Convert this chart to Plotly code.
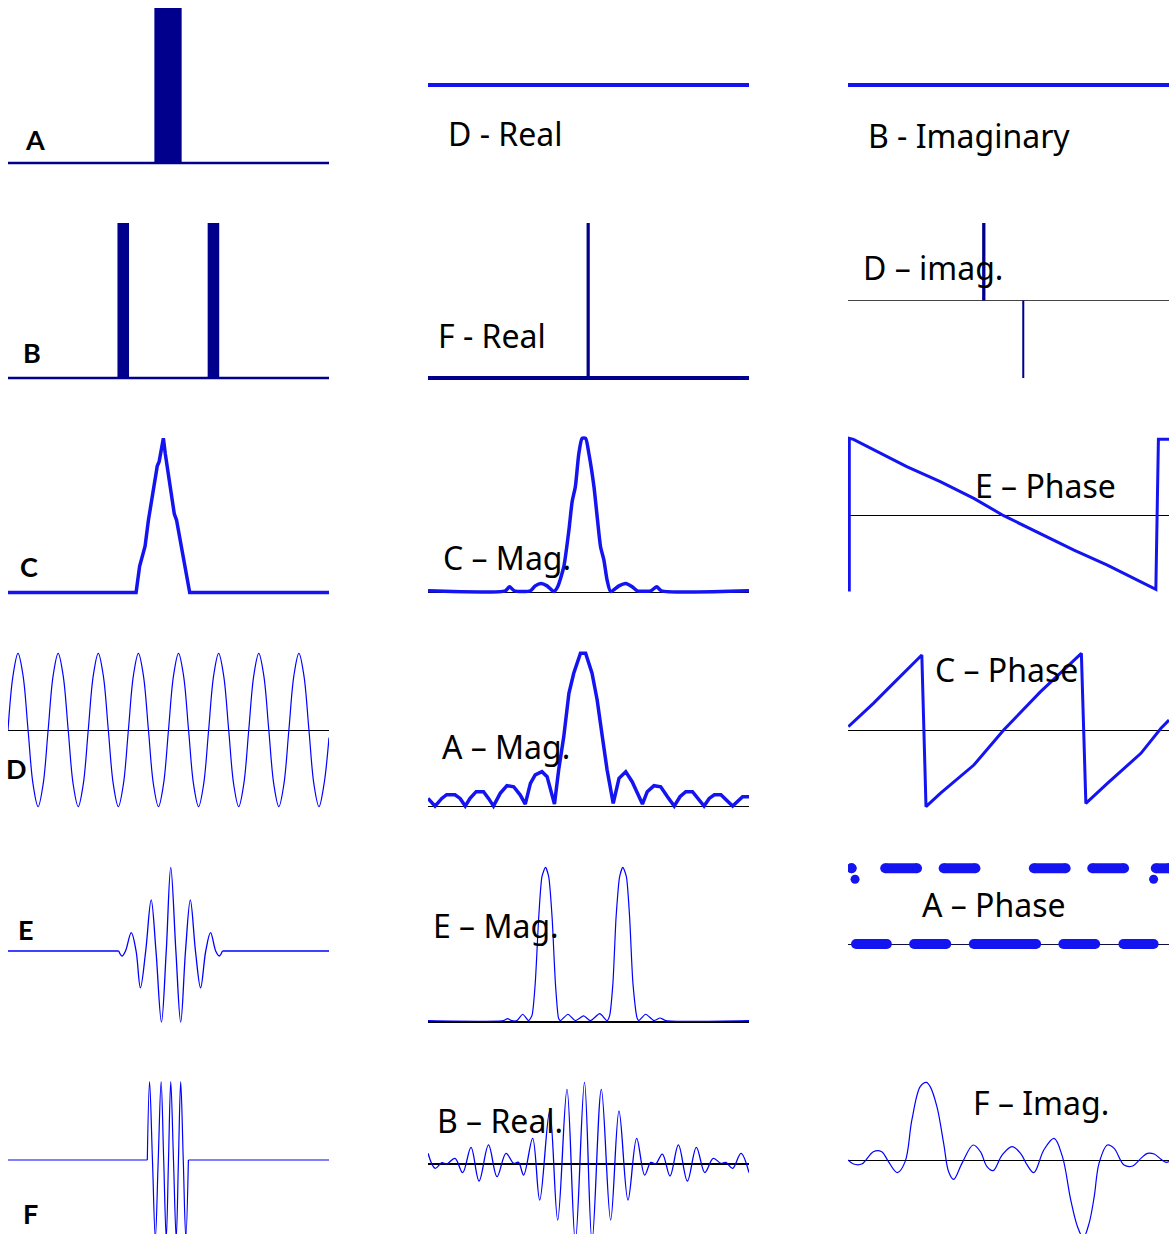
import plotly.graph_objects as go

W, H = 1172, 1234

# ---------------- data (x in % of panel width, y in signal units) ----------------
# A: single rectangular pulse
A_center = [49.85]
A_width = [8.5]
A_height = [1.0]
# B: two narrow pulses
B_center = [35.9, 64.0]
B_width = [3.6, 3.6]
B_height = [1.0, 1.0]
BASE_X = [0, 100]
BASE_Y = [0, 0]
# D - Real / B - Imaginary : constants
D_real_x = [0, 100]
D_real_y = [1, 1]
B_imag_x = [0, 100]
B_imag_y = [1, 1]
# F - Real : single spike
F_real_center = [49.9]
F_real_width = [1.0]
F_real_height = [1.0]
# D - imag : positive and negative spike
D_imag_center = [42.3, 54.6]
D_imag_width = [1.03, 0.63]
D_imag_height = [1.0, -1.0]
# C : triangular pulse
C_x = [0, 39.9, 41.0, 42.7, 43.75, 45.1, 46.5, 47.1, 47.5, 48.4, 49.0, 50.9, 51.8, 52.5, 54.4, 56.6, 100]
C_y = [0, 0, 0.17, 0.30, 0.47, 0.64, 0.82, 0.85, 0.90, 1.0, 0.90, 0.62, 0.51, 0.47, 0.25, 0, 0]
# C - Mag.
C_mag_x = [0, 24.1, 25.4, 26.9, 31.9, 33.4, 35.2, 37.1, 39.2, 40.4, 42.3, 43.9, 44.9, 45.9, 47.0, 48.0,
           49.1, 50.1, 51.7, 52.7, 53.75, 54.8, 55.8, 56.9, 59.5, 61.6, 63.6, 65.2, 69.4, 71.25, 72.7, 100]
C_mag_y = [0.011, 0.011, 0.037, 0.011, 0.011, 0.043, 0.058, 0.043, 0.006, 0.037, 0.167, 0.405, 0.589,
           0.686, 0.903, 1, 1, 0.903, 0.686, 0.491, 0.297, 0.21, 0.08, 0.006, 0.043, 0.058, 0.037, 0.011,
           0.011, 0.037, 0.011, 0.011]
# E - Phase (units of pi)
E_phase_x = [0.4, 0.4, 1.7, 7.9, 18.3, 28.75, 39.2, 48.5, 60, 70.4, 80.8, 91.25, 95.9, 96.7, 100]
E_phase_y = [-0.98, 1.0, 0.987, 0.858, 0.634, 0.44, 0.224, 0, -0.228, -0.444, -0.638, -0.853, -0.953, 0.987, 0.987]
# D : sinusoid, 8 samples per cycle (x = sample index)
D_wave = [0, 0.71, 1, 0.71, 0, -0.71, -1, -0.71,
          0, 0.71, 1, 0.71, 0, -0.71, -1, -0.71,
          0, 0.71, 1, 0.71, 0, -0.71, -1, -0.71,
          0, 0.71, 1, 0.71, 0, -0.71, -1, -0.71,
          0, 0.71, 1, 0.71, 0, -0.71, -1, -0.71,
          0, 0.71, 1, 0.71, 0, -0.71, -1, -0.71,
          0, 0.71, 1, 0.71, 0, -0.71, -1, -0.71,
          0, 0.71, 1, 0.71, 0, -0.71, -1, -0.71,
          -0.1]
# A - Mag.
A_mag_x = [0, 2.2, 4.3, 5.8, 8.4, 10.0, 11.6, 13.1, 15.0, 17.3, 18.85, 20.4, 22.5, 24.6, 26.7, 28.75,
           30.3, 31.9, 33.4, 35.5, 37.1, 38.6, 39.4, 40.7, 42.3, 43.9, 45.4, 47.5, 49.1, 51.1, 52.7, 54.3,
           55.8, 57.7, 59.5, 61.6, 63.6, 66.8, 68.3, 70.4, 72.5, 74.6, 76.7, 78.5, 80.3, 82.4, 84.2, 86.0,
           87.6, 89.2, 91.25, 93.1, 94.9, 98.0, 100]
A_mag_y = [0.054, 0.004, 0.054, 0.078, 0.078, 0.054, 0.004, 0.054, 0.098, 0.098, 0.054, 0.004, 0.087,
           0.137, 0.13, 0.076, 0.017, 0.152, 0.207, 0.228, 0.196, 0.087, 0.017, 0.239, 0.457, 0.739, 0.87,
           1, 1, 0.87, 0.696, 0.457, 0.239, 0.022, 0.185, 0.228, 0.163, 0.017, 0.098, 0.137, 0.13, 0.065,
           0.004, 0.065, 0.098, 0.098, 0.054, 0.004, 0.054, 0.078, 0.078, 0.043, 0.004, 0.065, 0.065]
# C - Phase (units of pi)
C_phase_x = [0.1, 7.9, 13.1, 18.3, 23.0, 24.3, 28.75, 39.2, 48.5, 60, 72.7, 74.1, 80.8, 91.25, 97.5, 100]
C_phase_y = [0.043, 0.348, 0.565, 0.783, 0.978, -1.0, -0.826, -0.457, 0, 0.5, 1.0, -0.957, -0.696,
             -0.304, 0.022, 0.13]
# E : modulated wave packet (flat outside the packet)
E_x = [0, 34.5, 35.5, 36.6, 38.4, 39.9, 41.25, 42.9, 44.6, 46.1, 47.8, 49.3, 50.7, 52.3, 53.8, 55.3,
       56.8, 58.4, 60.0, 61.6, 63.1, 64.7, 65.8, 66.8, 100]
E_y = [0, 0, -0.06, 0, 0.22, 0, -0.44, 0, 0.61, 0, -0.85, 0, 1.0, 0, -0.85, 0, 0.61, 0, -0.44, 0,
       0.22, 0, -0.06, 0, 0]
# E - Mag.
E_mag_x = [0, 23.5, 24.8, 26.1, 27.7, 29.5, 31.35, 32.4, 33.4, 34.5, 35.5, 36.6, 37.6, 38.65, 39.7,
           40.7, 41.25, 43.6, 45.9, 48.5, 50.6, 53.5, 55.8, 56.6, 57.6, 58.6, 59.7, 60.7, 61.8, 62.8,
           63.85, 65.2, 65.7, 67.8, 70.4, 72.3, 74.1, 100]
E_mag_y = [0.009, 0.009, 0.022, 0.009, 0.009, 0.05, 0.009, 0.043, 0.248, 0.68, 0.94, 1, 0.94, 0.68,
           0.248, 0.022, 0.009, 0.05, 0.009, 0.039, 0.009, 0.054, 0.009, 0.043, 0.248, 0.68, 0.94, 1,
           0.94, 0.68, 0.248, 0.022, 0.009, 0.05, 0.009, 0.026, 0.009, 0.009]
# A - Phase : runs at pi (1) and 0, plus two intermediate dots
AP_top_start = [1.1, 11.6, 29.8, 57.9, 76.1, 95.9]
AP_top_end = [1.1, 21.5, 39.7, 67.8, 86.0, 100.0]
AP_bot_start = [2.5, 20.6, 39.2, 67.1, 85.8]
AP_bot_end = [12.1, 30.6, 58.6, 77.0, 95.2]
AP_dot_x = [2.2, 95.2]
AP_dot_y = [0.855, 0.855]
# F : truncated cosine burst (flat outside the burst)
F_x = [0, 43.4, 44.1, 45.0, 45.9, 46.8, 47.7, 48.5, 49.3, 50.0, 50.7, 51.55, 52.4, 53.1, 53.8, 54.6,
       55.4, 56.2, 100]
F_y = [0, 0, 1, 0, -1, 0, 1, 0, -1, 0, 1, 0, -1, 0, 1, 0, -1, 0, 0]
# B - Real.
B_real_x = [0, 2.2, 4.3, 5.8, 8.4, 10.8, 13.4, 15.9, 18.85, 21.5, 24.3, 26.7, 28.2, 29.8, 32.6, 34.8,
            37.9, 40.4, 43.3, 45.9, 48.75, 51.1, 54.0, 56.9, 59.5, 62.3, 65.0, 67.5, 69.4, 70.9, 73.0,
            75.4, 78.0, 80.8, 83.6, 86.25, 88.85, 91.25, 92.8, 94.9, 97.5, 100]
B_real_y = [0.131, -0.053, 0.016, 0, 0.069, -0.106, 0.204, -0.208, 0.233, -0.155, 0.131, 0.008, 0.02,
            -0.135, 0.314, -0.441, 0.649, -0.686, 0.914, -0.95, 1.0, -0.95, 0.914, -0.686, 0.649, -0.441,
            0.314, -0.135, 0.02, 0, 0.122, -0.147, 0.233, -0.208, 0.204, -0.106, 0.069, 0.008, 0.02,
            -0.053, 0.131, -0.106]
# F - Imag.
F_imag_x = [0, 1.7, 4.3, 7.9, 10.5, 12.6, 15.4, 17.8, 19.9, 22.5, 24.4, 25.6, 27.7, 29.8, 31.35, 32.9,
            35.5, 39.0, 41.25, 43.3, 45.2, 48.0, 51.1, 53.75, 55.8, 57.9, 61.0, 64.2, 66.8, 69.4, 71.5,
            73.3, 75.1, 76.7, 78.2, 80.8, 82.9, 86.0, 88.65, 91.25, 93.3, 95.4, 97.5, 99.1, 100]
F_imag_y = [0, -0.052, -0.052, 0.107, 0.107, -0.021, -0.163, -0.021, 0.515, 0.944, 1.0, 0.944, 0.687,
            0.215, -0.15, -0.249, -0.043, 0.193, 0.107, -0.086, -0.137, 0.064, 0.172, 0.086, -0.064,
            -0.163, 0.129, 0.279, 0.043, -0.515, -0.858, -1.0, -0.815, -0.472, -0.043, 0.193, 0.15,
            -0.064, -0.077, 0.021, 0.086, 0.077, 0.009, -0.03, -0.021]

LEFT_LABELS = ["A", "B", "C", "D", "E", "F"]
PANEL_LABELS = ["D - Real", "B - Imaginary", "F - Real", "D – imag.", "C – Mag.", "E – Phase",
                "A – Mag.", "C – Phase", "E – Mag.", "A – Phase", "B – Real.", "F – Imag."]

# ---------------- layout geometry (window pixels) ----------------
OFF = 0  # page margin is removed below
COL_X = [8, 428, 848]
COL_W = 321
ROW_TOP = [8, 223, 438, 653, 867, 1082]
ROW_BOT = [163, 378, 593, 808, 1022, 1234]

NAVY = "rgb(0,0,140)"
BLUE = "rgb(0,0,255)"
BLUE2 = "rgb(20,20,240)"

fig = go.Figure()
axes = {}


def panel(i, col, row, v0px, v1px, xr=(0, 100), zero=None, zw=1.2):
    x0 = COL_X[col] - OFF
    x1 = x0 + COL_W
    top_f = max(ROW_TOP[row] - 10 - OFF, 0)
    bot_f = min(ROW_BOT[row] + 10 - OFF, H)
    s = 1.0 / (v0px - v1px)
    vtop = (v0px - (top_f + OFF)) * s
    vbot = (v0px - (bot_f + OFF)) * s
    sx = "" if i == 1 else str(i)
    axes["xaxis" + sx] = dict(domain=[x0 / W, x1 / W], range=list(xr), visible=False,
                             anchor="y" + sx, fixedrange=True)
    axes["yaxis" + sx] = dict(domain=[1 - bot_f / H, 1 - top_f / H], range=[vbot, vtop],
                             showgrid=False, showticklabels=False, ticks="", showline=False,
                             zeroline=zero is not None, zerolinecolor=zero or "black",
                             zerolinewidth=zw, anchor="x" + sx, fixedrange=True)
    return dict(xaxis="x" + sx, yaxis="y" + sx)


def line(ax, x, y, color, width, shape="linear", smoothing=1.0):
    fig.add_trace(go.Scatter(x=x, y=y, mode="lines", hoverinfo="skip",
                             line=dict(color=color, width=width, shape=shape, smoothing=smoothing),
                             **ax))


def burst(ax, x, y, color, width):
    # flat lead-in / lead-out drawn straight, oscillating middle drawn smooth
    line(ax, x[:2], y[:2], color, width)
    line(ax, x[1:-1], y[1:-1], color, width, "spline", 1.0)
    line(ax, x[-2:], y[-2:], color, width)


def bars(ax, c, h, w, color):
    fig.add_trace(go.Bar(x=c, y=h, width=w, marker=dict(color=color, line=dict(width=0)),
                         hoverinfo="skip", **ax))


# Row 1
ax = panel(1, 0, 0, 163, 8)
bars(ax, A_center, A_height, A_width, NAVY)
line(ax, BASE_X, BASE_Y, NAVY, 2.5)
ax = panel(2, 1, 0, 163, 85)
line(ax, D_real_x, D_real_y, BLUE2, 4)
ax = panel(3, 2, 0, 163, 85)
line(ax, B_imag_x, B_imag_y, BLUE2, 4)
# Row 2
ax = panel(4, 0, 1, 378, 223)
bars(ax, B_center, B_height, B_width, NAVY)
line(ax, BASE_X, BASE_Y, NAVY, 2.5)
ax = panel(5, 1, 1, 378, 223)
bars(ax, F_real_center, F_real_height, F_real_width, NAVY)
line(ax, BASE_X, BASE_Y, NAVY, 4)
ax = panel(6, 2, 1, 300.5, 223, zero="#444", zw=1)
bars(ax, D_imag_center, D_imag_height, D_imag_width, NAVY)
# Row 3
ax = panel(7, 0, 2, 592.5, 438.3)
line(ax, C_x, C_y, BLUE2, 3.5)
ax = panel(8, 1, 2, 592.5, 438.3, zero="black")
line(ax, C_mag_x, C_mag_y, BLUE2, 3.5, "spline", 0.6)
ax = panel(9, 2, 2, 515.7, 438.3, zero="black")
line(ax, E_phase_x, E_phase_y, BLUE2, 3)
# Row 4
ax = panel(10, 0, 3, 730, 653.3, xr=(0, 64), zero="black")
line(ax, list(range(len(D_wave))), D_wave, BLUE, 1.2, "spline", 1.0)
ax = panel(11, 1, 3, 806.7, 653.3, zero="black")
line(ax, A_mag_x, A_mag_y, BLUE2, 3.5)
ax = panel(12, 2, 3, 730, 653.3, zero="black")
line(ax, C_phase_x, C_phase_y, BLUE2, 3)
# Row 5
ax = panel(13, 0, 4, 951, 867.3)
burst(ax, E_x, E_y, BLUE, 1.3)
ax = panel(14, 1, 4, 1022, 867.3, zero="black", zw=1.5)
line(ax, E_mag_x, E_mag_y, BLUE, 1.2, "spline", 0.6)
ax = panel(15, 2, 4, 944, 868.3, zero="#101040", zw=1.2)
ap_x, ap_y = [], []
for s_, e_ in zip(AP_top_start, AP_top_end):
    ap_x += [s_, e_, None]
    ap_y += [1, 1, None]
for s_, e_ in zip(AP_bot_start, AP_bot_end):
    ap_x += [s_, e_, None]
    ap_y += [0, 0, None]
fig.add_trace(go.Scatter(x=ap_x, y=ap_y, mode="lines+markers", hoverinfo="skip",
                         line=dict(color=BLUE2, width=10), marker=dict(color=BLUE2, size=10),
                         connectgaps=False, **ax))
fig.add_trace(go.Scatter(x=AP_dot_x, y=AP_dot_y, mode="markers", hoverinfo="skip",
                         marker=dict(color=BLUE2, size=9), **ax))
# Row 6
ax = panel(16, 0, 5, 1160, 1081.7)
burst(ax, F_x, F_y, BLUE, 1.2)
ax = panel(17, 1, 5, 1164, 1082.3, zero="black", zw=1.5)
line(ax, B_real_x, B_real_y, BLUE, 1.3, "spline", 1.0)
ax = panel(18, 2, 5, 1160, 1082.3, zero="black", zw=1.2)
line(ax, F_imag_x, F_imag_y, BLUE, 1.2, "spline", 1.0)

# ---------------- labels ----------------
left_pos = [(35, 140), (32, 352), (28.5, 566), (16.5, 768), (25.5, 929), (30.5, 1213)]
ann = []
for t, (px, py) in zip(LEFT_LABELS, left_pos):
    ann.append(dict(text=t, x=(px - OFF) / W, y=1 - (py - OFF) / H, xref="paper", yref="paper",
                    showarrow=False, xanchor="center", yanchor="middle",
                    font=dict(family="Lato", size=27, color="black", weight="bold")))
label_pos = [(446, 133), (866, 135), (436, 335.5), (861, 267), (441, 557), (973, 485),
             (440, 746), (933, 669), (431, 926), (920, 904), (435, 1120.5), (971, 1102)]
for t, (px, py) in zip(PANEL_LABELS, label_pos):
    ann.append(dict(text=t, x=(px - OFF) / W, y=1 - (py - OFF) / H, xref="paper", yref="paper",
                    showarrow=False, xanchor="left", yanchor="middle",
                    font=dict(family="Noto Sans", size=32, color="black")))

fig.update_layout(width=W, height=H, margin=dict(l=0, r=0, t=0, b=0, pad=0),
                  paper_bgcolor="white", plot_bgcolor="white", showlegend=False,
                  barmode="overlay", annotations=ann, **axes)

fig.write_html("out.html", config={"displayModeBar": False},
               post_script="document.body.style.margin='0';document.body.style.overflow='hidden';")
